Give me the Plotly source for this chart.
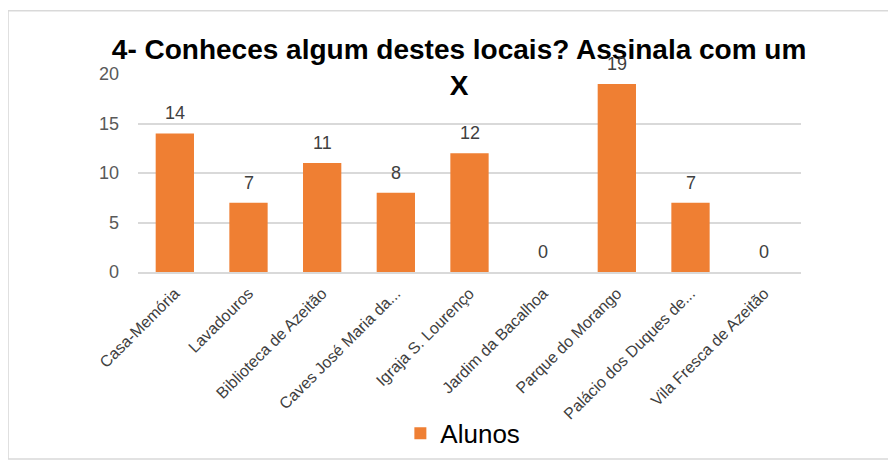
import plotly.graph_objects as go

locais = [
    "Casa-Memória",
    "Lavadouros",
    "Biblioteca de Azeitão",
    "Caves José Maria da...",
    "Igraja S. Lourenço",
    "Jardim da Bacalhoa",
    "Parque do Morango",
    "Palácio dos Duques de...",
    "Vila Fresca de Azeitão",
]
alunos = [14, 7, 11, 8, 12, 0, 19, 7, 0]
y_ticks = [0, 5, 10, 15, 20]

fig = go.Figure(
    go.Bar(
        x=locais,
        y=alunos,
        name="Alunos",
        marker=dict(color="#EF7F33", line=dict(width=0)),
        cliponaxis=False,
    )
)

# rótulos de dados um pouco afastados do topo das barras
for local, n in zip(locais, alunos):
    fig.add_annotation(
        x=local,
        y=n,
        text=str(n),
        showarrow=False,
        yanchor="bottom",
        yshift=8,
        font=dict(size=18, color="#404040"),
    )

# moldura cinzenta à volta do gráfico
fig.add_shape(
    type="rect",
    xref="paper",
    yref="paper",
    x0=-0.196,
    x1=1.134,
    y0=-0.945,
    y1=1.32,
    line=dict(color="#D9D9D9", width=1.5),
    layer="below",
)

# a página tem 8px de margem no body
fig.update_layout(
    width=888,
    height=461,
    margin=dict(l=130, r=95, t=66, b=195),
    paper_bgcolor="white",
    plot_bgcolor="white",
    font=dict(family="Arial, Liberation Sans", color="#404040"),
    title=dict(
        text="<b>4- Conheces algum destes locais? Assinala com um<br>X</b>",
        x=0.508,
        xanchor="center",
        xref="container",
        y=0.890,
        yanchor="middle",
        font=dict(size=28, color="black"),
    ),
    bargap=0.48,
    showlegend=True,
    legend=dict(
        orientation="h",
        x=0.49,
        xanchor="center",
        y=-0.815,
        yanchor="middle",
        font=dict(size=26, color="black"),
        itemwidth=30,
    ),
    xaxis=dict(
        tickangle=-45,
        tickfont=dict(size=16, color="#404040"),
        showline=True,
        linecolor="#D9D9D9",
        linewidth=1.5,
        ticks="",
        ticklabelstandoff=4,
    ),
    yaxis=dict(
        range=[0, 20],
        tickvals=y_ticks,
        tickfont=dict(size=18, color="#595959"),
        gridcolor="#D9D9D9",
        gridwidth=1.5,
        zeroline=False,
        ticks="",
        ticklen=0,
        ticklabelstandoff=18,
    ),
)

fig.write_html("out.html")
